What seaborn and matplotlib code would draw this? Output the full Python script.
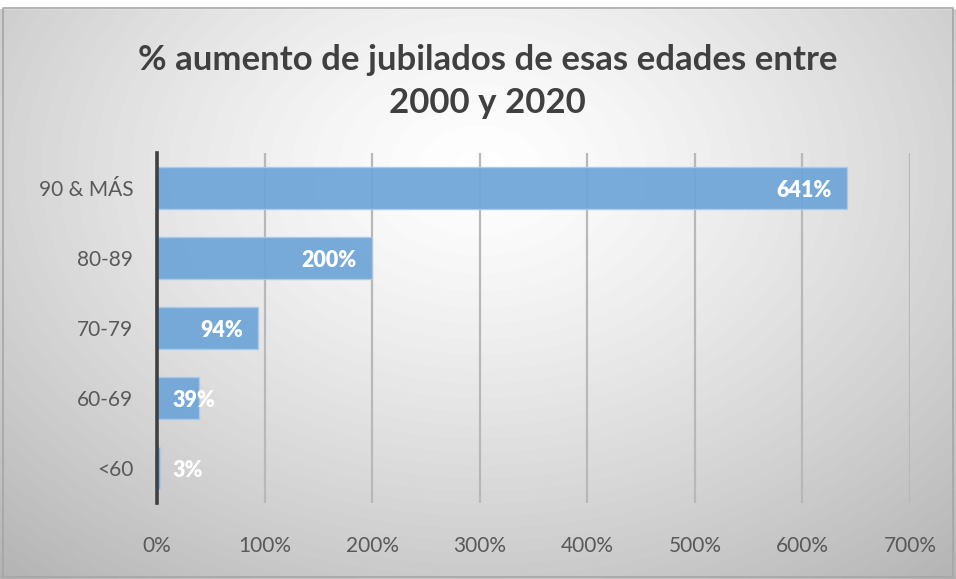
import numpy as np
import pandas as pd
import matplotlib
matplotlib.use("Agg")
import matplotlib.pyplot as plt
from matplotlib.ticker import FuncFormatter
import seaborn as sns

# data
grupos = ["90 & MÁS", "80-89", "70-79", "60-69", "<60"]
aumento = [641, 200, 94, 39, 3]
ticks_x = [0, 100, 200, 300, 400, 500, 600, 700]

df = pd.DataFrame({"grupo": grupos, "aumento": aumento})

sns.set_theme(style="white")
plt.rcParams["font.family"] = ["Lato", "DejaVu Sans"]

fig = plt.figure(figsize=(9.56, 5.79), dpi=100)

# radial grey background like the excel chart area
bg = fig.add_axes([0, 0, 1, 1], zorder=-10)
yy, xx = np.mgrid[0:579, 0:956]
r = np.sqrt(((xx - 480) / 956) ** 2 + ((yy - 170) / 700) ** 2)
shade = 1.0 - 0.42 * np.clip(r, 0, 1) ** 1.3
bg.imshow(shade, cmap="gray", vmin=0, vmax=1, aspect="auto",
          extent=[0, 1, 0, 1], origin="upper")
bg.plot([0.003, 0.997, 0.997, 0.003, 0.003], [0.004, 0.004, 0.986, 0.986, 0.004],
        color="#a6a6a6", lw=1.2)
bg.fill_between([0, 1], 0.986, 1, color="white")
bg.set_xlim(0, 1)
bg.set_ylim(0, 1)
bg.axis("off")

ax = fig.add_axes([0.1642, 0.1313, 0.7877, 0.6045])
ax.patch.set_alpha(0)

sns.barplot(data=df, x="aumento", y="grupo", orient="h", color="#6FA5D8",
            width=0.6, edgecolor="#A9CBEA", linewidth=1, alpha=0.93,
            saturation=1, ax=ax, zorder=3)

ax.set_xlim(0, 700)
ax.set_xticks(ticks_x)
ax.xaxis.set_major_formatter(FuncFormatter(lambda v, p: f"{v:.0f}%"))
ax.grid(axis="x", color="#b8b8b8", lw=1.6, zorder=1)
ax.set_axisbelow(True)
ax.set_xlabel("")
ax.set_ylabel("")
for s in ["top", "right", "bottom"]:
    ax.spines[s].set_visible(False)
ax.spines["left"].set_color("#404040")
ax.spines["left"].set_linewidth(2.6)
ax.spines["left"].set_zorder(5)
ax.tick_params(axis="both", length=0, labelsize=15, labelcolor="#595959")
ax.tick_params(axis="x", pad=24)
ax.tick_params(axis="y", pad=17)

# value labels, inside end (or past the base when the bar is too short)
for i, v in enumerate(aumento):
    if v >= 60:
        ax.annotate(f"{v}%", (v, i), xytext=(-11, -2), textcoords="offset points",
                    ha="right", va="center", color="white", fontsize=15.5,
                    fontweight="heavy", zorder=6)
    else:
        ax.annotate(f"{v}%", (0, i), xytext=(11, -2), textcoords="offset points",
                    ha="left", va="center", color="white", fontsize=15.5,
                    fontweight="heavy", zorder=6)

fig.text(0.51, 0.897, "% aumento de jubilados de esas edades entre",
         ha="center", va="center", fontsize=25, fontweight="bold", color="#404040")
fig.text(0.51, 0.822, "2000 y 2020",
         ha="center", va="center", fontsize=25, fontweight="bold", color="#404040")

fig.savefig("out.png", dpi=100)
